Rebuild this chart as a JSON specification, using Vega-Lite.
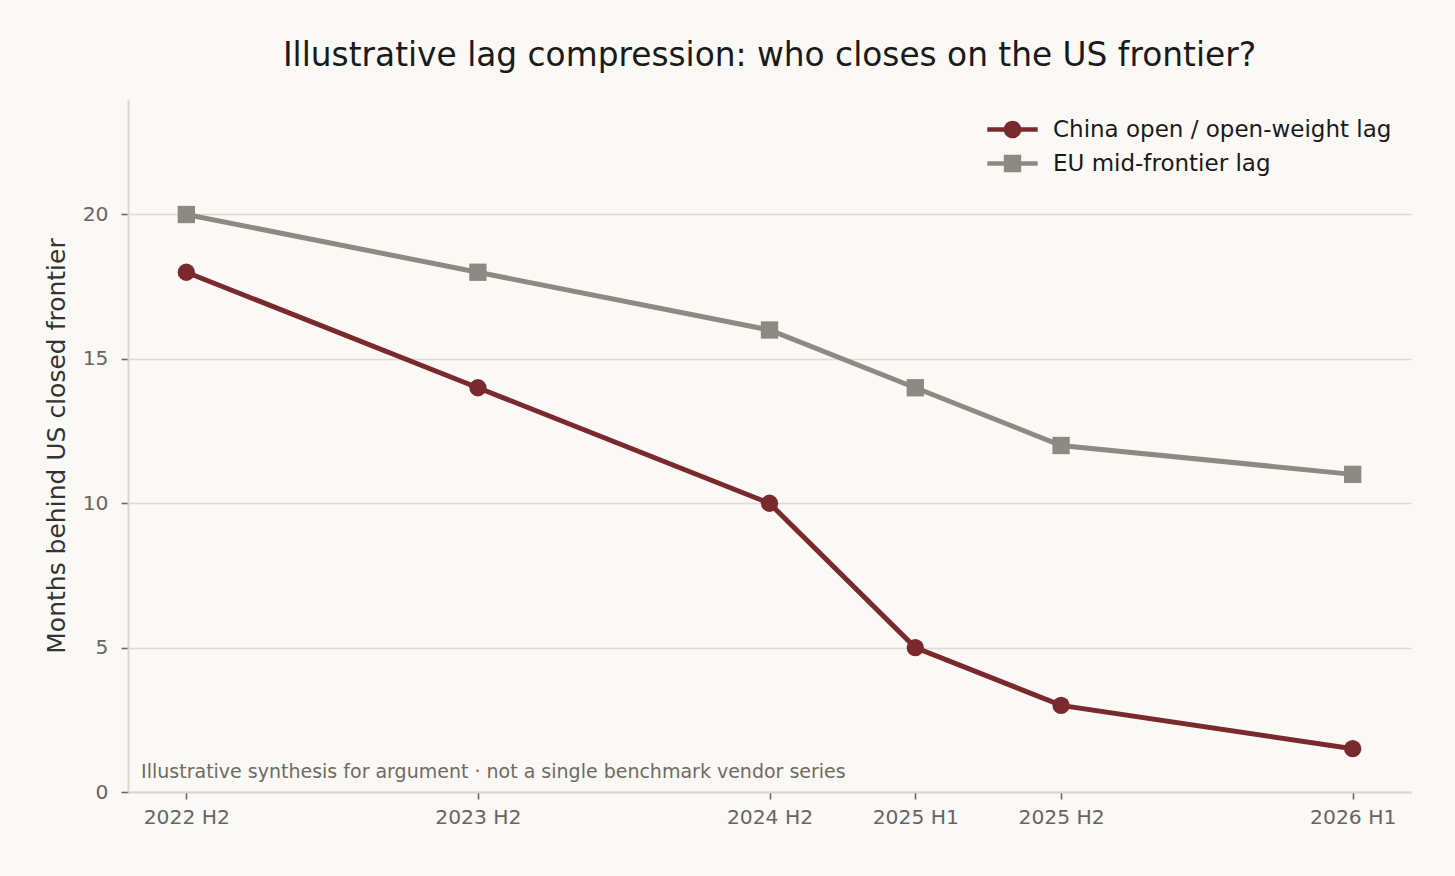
{
  "$schema": "https://vega.github.io/schema/vega-lite/v6.json",
  "width": 1283,
  "height": 693,
  "autosize": {"type": "none"},
  "padding": {"left": 128, "top": 99, "right": 44, "bottom": 84},
  "background": "#faf9f5",
  "config": {"font": "DejaVu Sans", "view": {"stroke": null}},
  "title": {
    "text": "Illustrative lag compression: who closes on the US frontier?",
    "fontSize": 32.8,
    "fontWeight": "normal",
    "color": "#1a1a1a",
    "anchor": "middle",
    "baseline": "alphabetic",
    "offset": 0
  },
  "data": {
    "values": [
      {"period": "2022 H2", "t": 0, "series": "China open / open-weight lag", "lag": 18},
      {"period": "2023 H2", "t": 2, "series": "China open / open-weight lag", "lag": 14},
      {"period": "2024 H2", "t": 4, "series": "China open / open-weight lag", "lag": 10},
      {"period": "2025 H1", "t": 5, "series": "China open / open-weight lag", "lag": 5},
      {"period": "2025 H2", "t": 6, "series": "China open / open-weight lag", "lag": 3},
      {"period": "2026 H1", "t": 8, "series": "China open / open-weight lag", "lag": 1.5},
      {"period": "2022 H2", "t": 0, "series": "EU mid-frontier lag", "lag": 20},
      {"period": "2023 H2", "t": 2, "series": "EU mid-frontier lag", "lag": 18},
      {"period": "2024 H2", "t": 4, "series": "EU mid-frontier lag", "lag": 16},
      {"period": "2025 H1", "t": 5, "series": "EU mid-frontier lag", "lag": 14},
      {"period": "2025 H2", "t": 6, "series": "EU mid-frontier lag", "lag": 12},
      {"period": "2026 H1", "t": 8, "series": "EU mid-frontier lag", "lag": 11}
    ]
  },
  "layer": [
    {
      "mark": {"type": "line", "strokeWidth": 5},
      "encoding": {
        "x": {
          "field": "t",
          "type": "quantitative",
          "scale": {"domain": [-0.4, 8.4], "nice": false, "zero": false},
          "axis": {
            "values": [0, 2, 4, 5, 6, 8],
            "labelExpr": "datum.value == 0 ? '2022 H2' : datum.value == 2 ? '2023 H2' : datum.value == 4 ? '2024 H2' : datum.value == 5 ? '2025 H1' : datum.value == 6 ? '2025 H2' : '2026 H1'",
            "title": null,
            "grid": false,
            "domainColor": "#dad7d0",
            "domainWidth": 2,
            "tickColor": "#666666",
            "tickSize": 7,
            "tickWidth": 1.6,
            "labelFontSize": 20.3,
            "labelColor": "#666666",
            "labelPadding": 8
          }
        },
        "y": {
          "field": "lag",
          "type": "quantitative",
          "scale": {"domain": [0, 24], "nice": false},
          "axis": {
            "values": [0, 5, 10, 15, 20],
            "title": "Months behind US closed frontier",
            "titleFontSize": 25,
            "titleFontWeight": "normal",
            "titleColor": "#333333",
            "titlePadding": 13,
            "grid": true,
            "gridColor": "#dedbd4",
            "gridWidth": 1.3,
            "domainColor": "#dad7d0",
            "domainWidth": 2,
            "tickColor": "#666666",
            "tickSize": 7,
            "tickWidth": 1.6,
            "labelFontSize": 20.3,
            "labelColor": "#666666",
            "labelPadding": 13
          }
        },
        "stroke": {
          "field": "series",
          "type": "nominal",
          "scale": {
            "domain": ["China open / open-weight lag", "EU mid-frontier lag"],
            "range": ["#7a2a2c", "#8b8a83"]
          },
          "legend": {
            "title": null,
            "orient": "none",
            "legendX": 873,
            "legendY": 19,
            "padding": 0,
            "labelFontSize": 23,
            "labelColor": "#1a1a1a",
            "labelLimit": 600,
            "labelOffset": 29,
            "rowPadding": 10,
            "symbolSize": 196,
            "symbolStrokeWidth": 0,
            "encode": {
              "symbols": {
                "update": {
                  "shape": {"signal": "datum.value === 'EU mid-frontier lag' ? 'M-3.6,-0.33H3.6V0.33H-3.6ZM-1.24,-1.24H1.24V1.24H-1.24Z' : 'M-3.6,-0.33H3.6V0.33H-3.6ZM-1.26,0A1.26,1.26,0,1,1,1.26,0A1.26,1.26,0,1,1,-1.26,0Z'"},
                  "fill": {"scale": "stroke", "field": "value"},
                  "strokeWidth": {"value": 0},
                  "opacity": {"value": 1}
                }
              }
            }
          }
        }
      }
    },
    {
      "transform": [{"filter": "datum.series === 'China open / open-weight lag'"}],
      "mark": {"type": "point", "shape": "circle", "filled": true, "size": 300, "opacity": 1},
      "encoding": {
        "x": {"field": "t", "type": "quantitative"},
        "y": {"field": "lag", "type": "quantitative"},
        "fill": {
          "field": "series",
          "type": "nominal",
          "scale": {
            "domain": ["China open / open-weight lag", "EU mid-frontier lag"],
            "range": ["#7a2a2c", "#8b8a83"]
          },
          "legend": null
        }
      }
    },
    {
      "transform": [{"filter": "datum.series === 'EU mid-frontier lag'"}],
      "mark": {"type": "point", "shape": "square", "filled": true, "size": 300, "opacity": 1},
      "encoding": {
        "x": {"field": "t", "type": "quantitative"},
        "y": {"field": "lag", "type": "quantitative"},
        "fill": {
          "field": "series",
          "type": "nominal",
          "legend": null
        }
      }
    },
    {
      "data": {"values": [{"note": "Illustrative synthesis for argument · not a single benchmark vendor series"}]},
      "mark": {"type": "text", "align": "left", "baseline": "alphabetic", "font": "DejaVu Sans", "fontSize": 19, "color": "#6e6a64"},
      "encoding": {
        "x": {"datum": -0.31, "type": "quantitative"},
        "y": {"datum": 0.48, "type": "quantitative"},
        "text": {"field": "note", "type": "nominal"}
      }
    }
  ]
}
